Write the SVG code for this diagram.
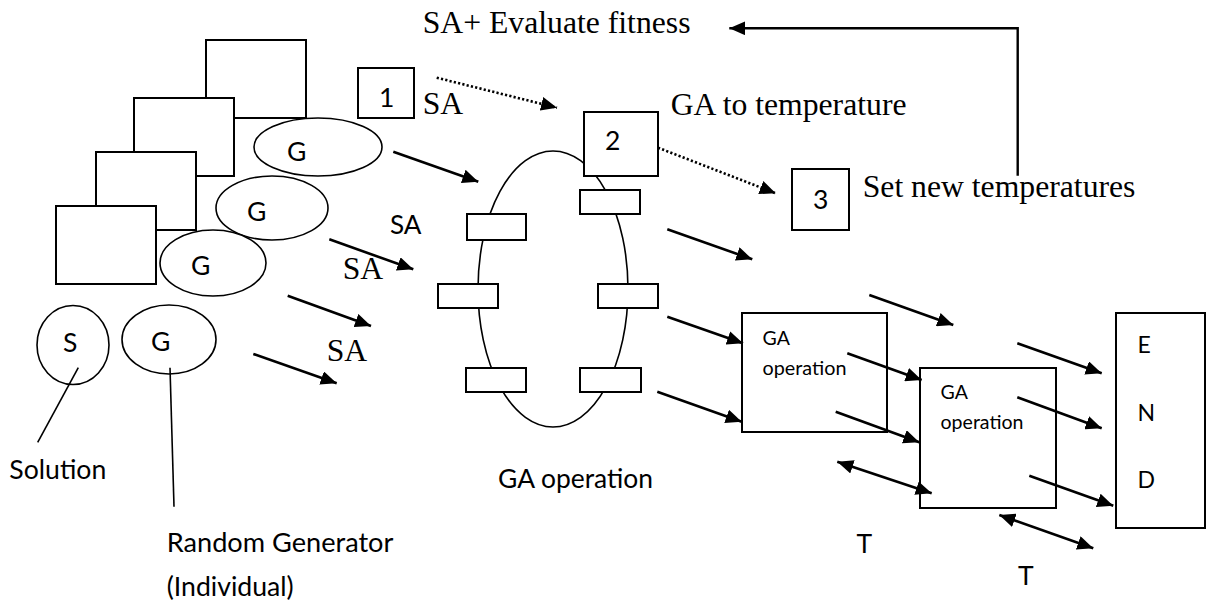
<svg xmlns="http://www.w3.org/2000/svg" width="1211" height="603" viewBox="0 0 1211 603">
<style>
.bx{fill:#fff;stroke:#000;stroke-width:2}
.el{fill:#fff;stroke:#000;stroke-width:1.6}
.ln{fill:none;stroke:#000;stroke-width:1.6}
.ar{fill:none;stroke:#000;stroke-width:2.6;marker-end:url(#ah)}
.dbl{fill:none;stroke:#000;stroke-width:2.6;marker-start:url(#ah);marker-end:url(#ah)}
.dot{fill:none;stroke:#000;stroke-width:2.6;stroke-dasharray:2.2 2.2;marker-end:url(#ah)}
.fb{fill:none;stroke:#000;stroke-width:2.4;marker-end:url(#ah)}
.serif{font-family:"Liberation Serif","Times New Roman",serif;font-size:31.7px;fill:#000}
.sans{font-family:Lato,"Liberation Sans",sans-serif;font-size:26.5px;fill:#000}
.sm{font-family:Lato,"Liberation Sans",sans-serif;font-size:19.5px;fill:#000}
.end{font-family:Lato,"Liberation Sans",sans-serif;font-size:23px;fill:#000}
</style>
<defs>
<marker id="ah" viewBox="0 0 16 14" refX="16" refY="7" markerWidth="16" markerHeight="14" markerUnits="userSpaceOnUse" orient="auto-start-reverse">
<path d="M0,0L16,7L0,14z" fill="#000"/>
</marker>
</defs>

<g id="stack">
<rect class="bx" x="206" y="40" width="100" height="78"/>
<rect class="bx" x="134" y="98" width="100" height="78"/>
<rect class="bx" x="96" y="152" width="100" height="78"/>
<rect class="bx" x="56" y="206" width="100" height="78"/>
</g>
<g id="g1"><ellipse class="el" cx="318" cy="147" rx="64" ry="29"/><text class="sans" x="287" y="161">G</text></g>
<g id="g2"><ellipse class="el" cx="272" cy="208" rx="56" ry="32"/><text class="sans" x="247" y="221">G</text></g>
<g id="g3"><ellipse class="el" cx="213" cy="263" rx="53" ry="33"/><text class="sans" x="191" y="275">G</text></g>
<g id="s"><ellipse class="el" cx="73" cy="345" rx="36" ry="39.5"/><text class="sans" x="63" y="352">S</text></g>
<g id="g4"><ellipse class="el" cx="169" cy="339.5" rx="47" ry="34.5"/><text class="sans" x="151" y="351">G</text></g>

<g id="n1"><rect class="bx" x="358" y="68" width="56" height="50"/><text class="sans" x="379" y="107">1</text></g>

<g id="ring">
<ellipse class="el" fill="none" cx="553" cy="289" rx="75" ry="138"/>
<rect class="bx" x="580" y="190" width="60" height="24"/>
<rect class="bx" x="467" y="214" width="59" height="26"/>
<rect class="bx" x="438" y="284" width="60" height="24"/>
<rect class="bx" x="598" y="284" width="60" height="24"/>
<rect class="bx" x="466" y="368" width="60" height="24"/>
<rect class="bx" x="580" y="368" width="61" height="24"/>
</g>
<g id="n2"><rect class="bx" x="584" y="112" width="74" height="64"/><text class="sans" x="605" y="150">2</text></g>
<g id="n3"><rect class="bx" x="792" y="169" width="57" height="61"/><text class="sans" x="813" y="208.5">3</text></g>

<g id="ga1"><rect class="bx" x="742" y="313" width="145" height="119"/><text class="sm" x="762.5" y="345">GA</text><text class="sm" x="762.5" y="375" textLength="84" lengthAdjust="spacingAndGlyphs">operation</text></g>
<g id="ga2"><rect class="bx" x="920" y="368" width="136" height="140"/><text class="sm" x="940.5" y="399">GA</text><text class="sm" x="940.5" y="428.5" textLength="83" lengthAdjust="spacingAndGlyphs">operation</text></g>
<g id="end"><rect class="bx" x="1116" y="313" width="89" height="215"/>
<text class="end" x="1137.5" y="352.5">E</text><text class="end" x="1137.5" y="421">N</text><text class="end" x="1137.5" y="487.5">D</text></g>

<g id="connectors">
<line class="ar" x1="393.3" y1="151.7" x2="478.3" y2="181.7"/>
<line class="ar" x1="329.3" y1="239.3" x2="413.3" y2="269.3"/>
<line class="ar" x1="287.7" y1="295.7" x2="371" y2="326"/>
<line class="ar" x1="253.3" y1="354" x2="336.7" y2="383.3"/>
<line class="ar" x1="667.3" y1="229.3" x2="752.3" y2="259.3"/>
<line class="ar" x1="667.3" y1="316.7" x2="743" y2="343.3"/>
<line class="ar" x1="657.3" y1="391.7" x2="741.7" y2="421.7"/>
<line class="ar" x1="869.3" y1="295" x2="953.3" y2="325"/>
<line class="ar" x1="847.3" y1="353.3" x2="921.7" y2="380"/>
<line class="ar" x1="835.7" y1="411.7" x2="919.3" y2="442.3"/>
<line class="ar" x1="1017.3" y1="343.3" x2="1101.7" y2="373.3"/>
<line class="ar" x1="1017.3" y1="397.3" x2="1101.7" y2="428.3"/>
<line class="ar" x1="1029.3" y1="475.7" x2="1113.3" y2="505.7"/>
<line class="dbl" x1="837.3" y1="461.7" x2="931.7" y2="493.3"/>
<line class="dbl" x1="999.3" y1="515" x2="1093.3" y2="548.3"/>
<line class="dot" x1="436.7" y1="77.7" x2="557" y2="107.7"/>
<line class="dot" x1="658" y1="147.7" x2="775.7" y2="193.3"/>
<path class="fb" d="M1017.7,175.7V28.3H729.3"/>
<line class="ln" x1="78.3" y1="367.7" x2="37.7" y2="442.3"/>
<line class="ln" x1="170" y1="367.7" x2="174" y2="506.7"/>
</g>

<g id="labels">
<text class="serif" x="422.7" y="33.3">SA+ Evaluate fitness</text>
<text class="serif" x="422.7" y="114">SA</text>
<text class="serif" x="670.7" y="115">GA to temperature</text>
<text class="serif" x="862.7" y="196.7">Set new temperatures</text>
<text class="serif" x="342.7" y="279">SA</text>
<text class="serif" x="326.7" y="360.7">SA</text>
<text class="sans" x="390" y="234" textLength="31.5" lengthAdjust="spacingAndGlyphs">SA</text>
<text class="sans" x="9.3" y="479" textLength="97" lengthAdjust="spacingAndGlyphs">Solution</text>
<text class="sans" x="166.7" y="552.3" textLength="226.7" lengthAdjust="spacingAndGlyphs">Random Generator</text>
<text class="sans" x="166.7" y="596" textLength="127" lengthAdjust="spacingAndGlyphs">(Individual)</text>
<text class="sans" x="498" y="488.3" textLength="155" lengthAdjust="spacingAndGlyphs">GA operation</text>
<text class="sans" x="856.5" y="553.3">T</text>
<text class="sans" x="1018" y="585">T</text>
</g>
</svg>
